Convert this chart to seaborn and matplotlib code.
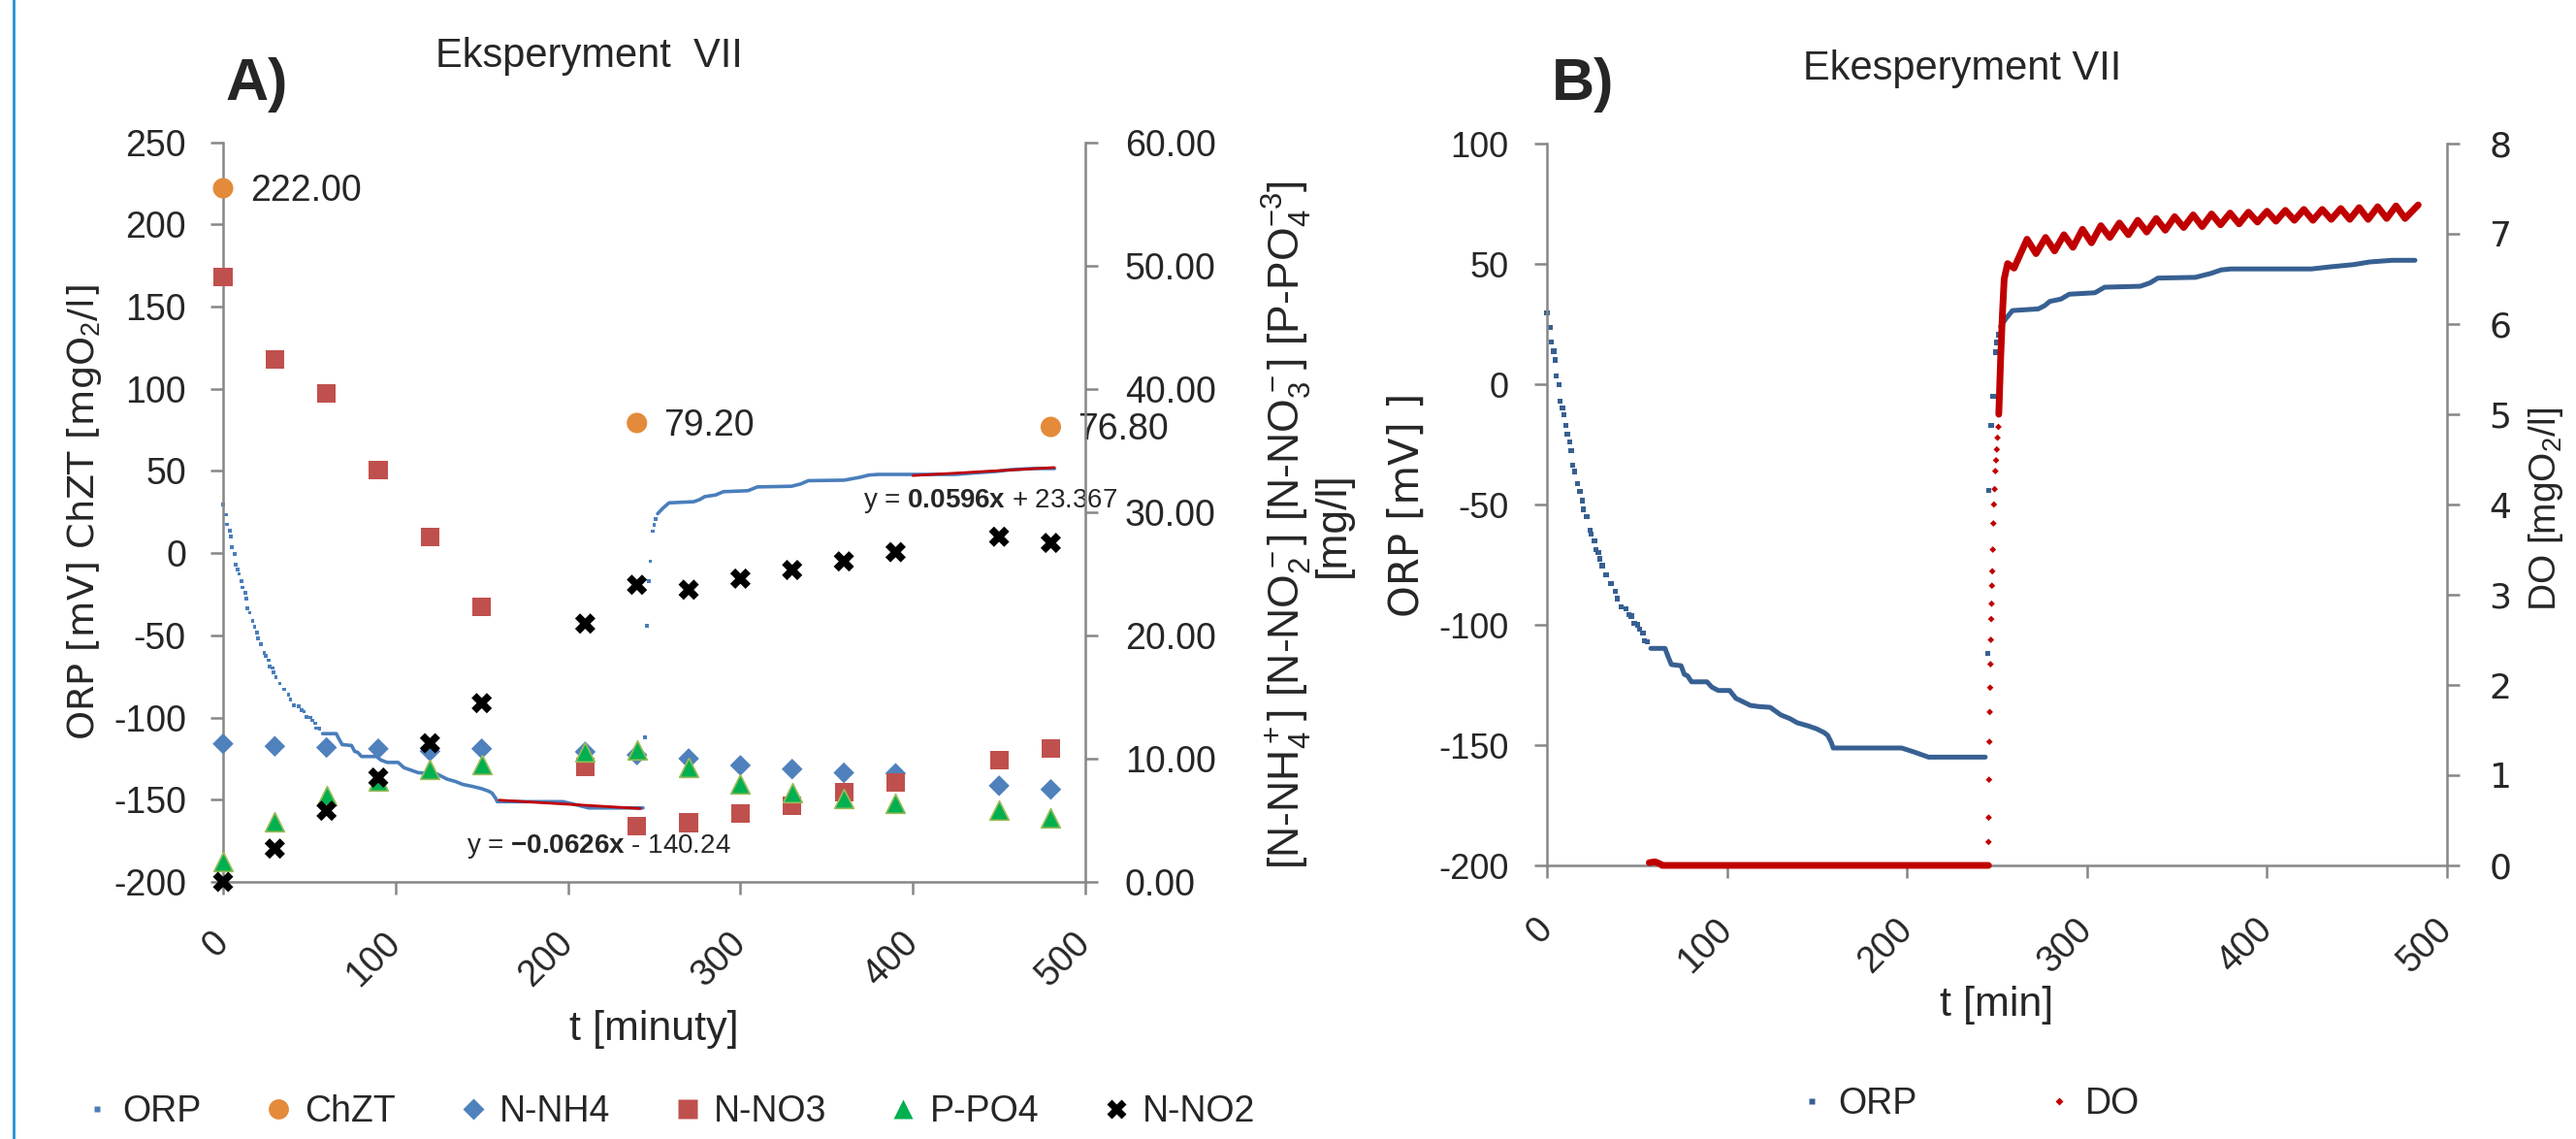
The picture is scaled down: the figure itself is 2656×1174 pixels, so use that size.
import numpy as np
import matplotlib
matplotlib.use("Agg")
import matplotlib.pyplot as plt
import seaborn as sns
from matplotlib.lines import Line2D

sns.set_style("white")
plt.rcParams.update({
    "font.family": ["Liberation Sans", "DejaVu Sans"],
    "mathtext.fontset": "custom",
    "mathtext.rm": "Liberation Sans",
    "mathtext.it": "Liberation Sans:italic",
    "mathtext.bf": "Liberation Sans:bold",
    "axes.edgecolor": "#868686",
    "axes.linewidth": 1.8,
    "axes.unicode_minus": False,
})

W, H = 2656, 1174
def fx(px): return px / W
def fy(py): return 1 - py / H

# ---- data: lab samples (panel A) ----
T_SAMPLE = [0, 30, 60, 90, 120, 150, 210, 240, 270, 300, 330, 360, 390, 450, 480]
N_NH4 = [11.2, 11.0, 10.9, 10.8, 10.6, 10.8, 10.55, 10.3, 10.0, 9.45, 9.15, 8.85, 8.8, 7.8, 7.5]
N_NO3 = [49.1, 42.4, 39.6, 33.4, 28.0, 22.3, 9.3, 4.5, 4.8, 5.55, 6.2, 7.3, 8.1, 9.9, 10.8]
P_PO4 = [1.65, 4.9, 7.0, 8.2, 9.1, 9.5, 10.55, 10.7, 9.3, 7.95, 7.27, 6.8, 6.4, 5.86, 5.17]
N_NO2 = [0.0, 2.7, 5.77, 8.46, 11.25, 14.5, 20.95, 24.1, 23.7, 24.6, 25.3, 26.0, 26.75, 28.0, 27.5]
T_CHZT = [0, 240, 480]
CHZT = [222.00, 79.20, 76.80]

# ---- data: ORP probe [mV] ----
ORP_DROP_T = [0.0, 1.8, 2.3, 3.8, 4.5, 5.2, 6.6, 7.4, 8.6, 9.3, 10.6, 11.3, 12.8, 13.5, 14.2,
              15.5, 17.1, 18.3, 19.6, 20.3, 22.1, 23.9, 24.6, 26.4, 27.1, 28.6, 29.3, 30.7,
              32.9, 35.6, 37.9, 39.0, 41.1, 44.0, 45.4, 46.9, 48.5, 50.5, 51.6, 53.3, 54.0, 55.9]
ORP_DROP_V = [29.7, 23.5, 17.5, 13.7, 10.1, 3.5, -0.3, -7.0, -10.0, -12.6, -17.2, -20.8, -24.1,
              -27.7, -33.7, -36.3, -41.4, -44.6, -48.4, -52.0, -55.2, -60.8, -62.4, -65.2, -68.8,
              -69.9, -72.6, -75.4, -79.3, -82.9, -86.0, -89.1, -92.7, -93.3, -95.7, -96.4, -99.5,
              -100.0, -101.7, -103.5, -106.5, -106.9]
ORP_LOW_T = [57.7, 65.6, 67.3, 69.1, 74.5, 76.3, 78.1, 80.3, 88.9, 91.6, 95.2, 101.5, 105.0,
             106.5, 113.0, 118.0, 124.0, 130.0, 135.0, 139.0, 145.0, 149.7, 154.0, 156.0, 158.0,
             159.0, 197.0, 203.7, 212.0, 243.5]
ORP_LOW_V = [-109.8, -109.8, -113.2, -116.5, -117.0, -120.6, -121.2, -123.7, -123.7, -125.9,
             -127.3, -127.3, -130.6, -131.1, -133.5, -134.0, -134.3, -137.5, -139.0, -140.7,
             -142.0, -143.2, -144.8, -146.0, -149.0, -151.2, -151.2, -152.8, -155.0, -155.0]
ORP_JUMP_T = [244.8, 245.6, 246.8, 247.8, 249.2, 250.0, 250.8]
ORP_JUMP_V = [-112.0, -44.0, -17.0, -5.0, 13.3, 17.3, 20.6]
ORP_HIGH_T = [252.0, 255.0, 258.6, 273.0, 276.6, 279.3, 285.6, 290.1, 304.4, 309.8, 329.6, 335.0,
              339.4, 360.1, 369.1, 374.5, 379.8, 424.7, 435.5, 448.0, 457.0, 469.6, 482.2]
ORP_HIGH_V = [24.0, 27.3, 30.6, 31.3, 32.7, 34.4, 35.4, 37.4, 38.0, 40.3, 40.7, 42.1, 44.1, 44.4,
              46.1, 47.5, 47.9, 47.9, 48.8, 49.7, 50.8, 51.5, 51.5]

# ---- data: DO probe [mgO2/l] ----
DO_ZERO_T = [56.8, 60.0, 62.5, 64.0, 245.3]
DO_ZERO_V = [0.03, 0.04, 0.02, 0.0, 0.0]
DO_JUMP_T = [245.3, 245.4, 245.6, 245.8, 246.0, 246.2, 246.4, 246.6, 246.8, 247.0, 247.2,
             247.4, 247.7, 248.0, 248.3, 248.7, 249.1, 249.5, 249.9, 250.3, 250.8]
DO_JUMP_V = [0.26, 0.53, 0.95, 1.37, 1.70, 1.97, 2.23, 2.50, 2.73, 2.90, 3.10, 3.26, 3.50,
             3.79, 4.00, 4.17, 4.37, 4.49, 4.61, 4.74, 4.86]
DO_HIGH_T = [251.0, 252.0, 253.0, 254.0, 255.9, 259.5,
             266.7, 271.7, 277.0, 282.0, 287.2, 292.2, 297.5, 302.5, 307.7, 312.7, 318.0, 323.0,
             328.2, 333.2, 338.5, 343.5, 348.7, 353.7, 359.0, 364.0, 369.2, 374.2, 379.5, 384.5,
             389.7, 394.7, 400.0, 405.0, 410.2, 415.2, 420.5, 425.5, 430.7, 435.7, 441.0, 446.0,
             451.2, 456.2, 461.5, 466.5, 471.7, 476.7, 484.0]
DO_HIGH_V = [5.0, 5.6, 6.1, 6.5, 6.67, 6.62,
             6.94, 6.78, 6.96, 6.81, 6.99, 6.85, 7.05, 6.90, 7.09, 6.96, 7.12, 6.99,
             7.15, 7.02, 7.17, 7.04, 7.19, 7.07, 7.21, 7.08, 7.22, 7.10, 7.23, 7.11,
             7.24, 7.13, 7.25, 7.14, 7.26, 7.15, 7.27, 7.15, 7.27, 7.16, 7.28, 7.16,
             7.29, 7.16, 7.30, 7.17, 7.31, 7.17, 7.32]

# linear trendlines shown in panel A: (slope, intercept, t_start, t_end)
FIT_NEG = (-0.0626, -140.24, 160, 242)
FIT_POS = (0.0596, 23.367, 400, 482)

X_TICKS = [0, 100, 200, 300, 400, 500]

C_ORP_A = "#4A7EBB"
C_ORP_B = "#376092"
C_DO = "#C00000"
C_FIT = "#C00000"
C_CHZT = "#E38B3A"
C_NH4 = "#4F81BD"
C_NO3 = "#C0504D"
C_PO4 = "#00B050"
C_NO2 = "black"
GREY = "#868686"

fig = plt.figure(figsize=(W / 100, H / 100), dpi=100)
fig.add_artist(Line2D([fx(14), fx(14)], [0, 1], color="#1E90D0", lw=2))


def style_axes(ax, ax2, xpad, lpad, rpad, lsize, rfont):
    for s in ["top", "right"]:
        ax.spines[s].set_visible(False)
    for s in ["top", "left", "bottom"]:
        ax2.spines[s].set_visible(False)
    for sp in list(ax.spines.values()) + list(ax2.spines.values()):
        sp.set_color(GREY); sp.set_linewidth(1.8)
    ax.tick_params(axis="x", bottom=True, direction="out", length=9.4, width=1.8,
                   color=GREY, labelsize=27, pad=xpad)
    ax.tick_params(axis="y", left=True, direction="out", length=9.4, width=1.8,
                   color=GREY, labelsize=lsize, pad=lpad)
    ax2.tick_params(axis="y", right=True, left=False, direction="out", length=9.4,
                    width=1.8, color=GREY, labelsize=lsize, pad=rpad)
    ax.set_xlim(0, 500)
    ax.set_xticks(X_TICKS)
    ax.set_xticklabels([str(t) for t in X_TICKS], rotation=45, ha="right", va="center",
                       rotation_mode="anchor")
    for lab in ax2.get_yticklabels():
        lab.set_family(rfont)
    ax.grid(False); ax2.grid(False)


# ================= Panel A =================
axA = fig.add_axes([fx(230), fy(909), (1119 - 230) / W, (909 - 146.6) / H])
axA2 = axA.twinx()
axA.set_ylim(-200, 250)
axA.set_yticks(range(-200, 251, 50))
axA2.set_ylim(0, 60)
axA2.set_yticks(range(0, 61, 10))
axA2.set_yticklabels([f"{v:.2f}" for v in range(0, 61, 10)])

sns.scatterplot(x=ORP_DROP_T, y=ORP_DROP_V, ax=axA, marker="s", s=7, color=C_ORP_A,
                edgecolor="none", legend=False, clip_on=False)
sns.lineplot(x=ORP_LOW_T, y=ORP_LOW_V, ax=axA, color=C_ORP_A, lw=2.6, estimator=None,
             sort=False, legend=False)
sns.scatterplot(x=ORP_JUMP_T, y=ORP_JUMP_V, ax=axA, marker="s", s=7, color=C_ORP_A,
                edgecolor="none", legend=False)
sns.lineplot(x=ORP_HIGH_T, y=ORP_HIGH_V, ax=axA, color=C_ORP_A, lw=2.6, estimator=None,
             sort=False, legend=False)
for m, c, t0, t1 in (FIT_NEG, FIT_POS):
    tt = np.array([t0, t1])
    axA.plot(tt, m * tt + c, color=C_FIT, lw=2.0, zorder=3)

sns.scatterplot(x=T_CHZT, y=CHZT, ax=axA, marker="o", s=230, color=C_CHZT,
                edgecolor="none", legend=False, clip_on=False, zorder=4)
for t, v in zip(T_CHZT, CHZT):
    axA.annotate(f"{v:.2f}", (t, v), xytext=(20, -2), textcoords="offset points",
                 ha="left", va="center", fontsize=27)

sns.scatterplot(x=T_SAMPLE, y=N_NH4, ax=axA2, marker="D", s=120, color=C_NH4,
                edgecolor="none", legend=False, clip_on=False)
sns.scatterplot(x=T_SAMPLE, y=N_NO3, ax=axA2, marker="s", s=190, color=C_NO3,
                edgecolor="none", legend=False, clip_on=False)
sns.scatterplot(x=T_SAMPLE, y=P_PO4, ax=axA2, marker="^", s=200, color=C_PO4,
                edgecolor="#9BBB59", linewidth=1.2, legend=False, clip_on=False)
sns.scatterplot(x=T_SAMPLE, y=N_NO2, ax=axA2, marker="X", s=230, color=C_NO2,
                edgecolor="none", legend=False, clip_on=False)

axA.text(218, -178.7, r"y = $\mathbf{-0.0626x}$ - 140.24", ha="center", va="center",
         fontsize=20)
axA.text(445, 31.8, r"y = $\mathbf{0.0596x}$ + 23.367", ha="center", va="center",
         fontsize=20)

style_axes(axA, axA2, xpad=32, lpad=18, rpad=20, lsize=27, rfont="Liberation Sans")
axA.set_ylabel(r"ORP [mV] ChZT [mgO$_2$/l]", fontsize=27.5, family="DejaVu Sans")
axA.yaxis.set_label_coords(-0.138, 0.5)
axA2.set_ylabel("[N-NH$_4^+$] [N-NO$_2^-$] [N-NO$_3^-$] [P-PO$_4^{-3}$]\n[mg/l]",
                fontsize=32, linespacing=0.95)
axA2.yaxis.set_label_coords(1.2036, 0.483)
axA.set_xlabel("t [minuty]", fontsize=31)
axA.xaxis.set_label_coords(0.5, -0.173)

# ================= Panel B =================
axB = fig.add_axes([fx(1595), fy(892), (2523 - 1595) / W, (892 - 148) / H])
axB2 = axB.twinx()
axB.set_ylim(-200, 100)
axB.set_yticks(range(-200, 101, 50))
axB2.set_ylim(0, 8)
axB2.set_yticks(range(0, 9))

sns.scatterplot(x=ORP_DROP_T, y=ORP_DROP_V, ax=axB, marker="s", s=14, color=C_ORP_B,
                edgecolor="none", legend=False, clip_on=False)
sns.lineplot(x=ORP_LOW_T, y=ORP_LOW_V, ax=axB, color=C_ORP_B, lw=3.6, estimator=None,
             sort=False, legend=False)
sns.scatterplot(x=ORP_JUMP_T, y=ORP_JUMP_V, ax=axB, marker="s", s=14, color=C_ORP_B,
                edgecolor="none", legend=False)
sns.lineplot(x=ORP_HIGH_T, y=ORP_HIGH_V, ax=axB, color=C_ORP_B, lw=3.6, estimator=None,
             sort=False, legend=False)

sns.lineplot(x=DO_ZERO_T, y=DO_ZERO_V, ax=axB2, color=C_DO, lw=5, estimator=None,
             sort=False, legend=False, clip_on=False)
sns.scatterplot(x=DO_JUMP_T, y=DO_JUMP_V, ax=axB2, marker="D", s=12, color=C_DO,
                edgecolor="none", legend=False)
sns.lineplot(x=DO_HIGH_T, y=DO_HIGH_V, ax=axB2, color=C_DO, lw=5, estimator=None,
             sort=False, legend=False)

style_axes(axB, axB2, xpad=34, lpad=19, rpad=22, lsize=26, rfont="DejaVu Sans")
axB.set_ylabel("ORP [mV] ]", fontsize=30, family="DejaVu Sans")
axB.yaxis.set_label_coords(-0.1325, 0.5)
axB2.set_ylabel(r"DO [mgO$_2$/l]", fontsize=28)
axB2.yaxis.set_label_coords(1.088, 0.493)
axB.set_xlabel("t [min]", fontsize=31)
axB.xaxis.set_label_coords(0.5, -0.167)

# ---- titles ----
fig.text(fx(232), fy(103), "A)", fontsize=44, weight="bold", va="baseline", ha="left")
fig.text(fx(607), fy(69), "Eksperyment  VII", fontsize=30, va="baseline", ha="center")
fig.text(fx(1600), fy(103), "B)", fontsize=44, weight="bold", va="baseline", ha="left")
fig.text(fx(2023), fy(82), "Ekesperyment VII", fontsize=30, va="baseline", ha="center")

# ---- legends ----
def mk(marker, color, ms, **kw):
    return Line2D([], [], ls="none", marker=marker, color=color, ms=ms, mec="none", **kw)

handles_a = [mk("s", C_ORP_A, 4), mk("o", C_CHZT, 15), mk("D", C_NH4, 11),
             mk("s", C_NO3, 14), mk("^", C_PO4, 14), mk("X", C_NO2, 15)]
labels_a = ["ORP", "ChZT", "N-NH4", "N-NO3", "P-PO4", "N-NO2"]
fig.legend(handles_a, labels_a, loc="center left", bbox_to_anchor=(fx(84.5), fy(1146)),
           ncol=6, frameon=False, fontsize=27, handlelength=0.8, handletextpad=0.32,
           columnspacing=1.72, borderpad=0, borderaxespad=0)
handles_b = [mk("s", C_ORP_B, 4), mk("D", C_DO, 4)]
fig.legend(handles_b, ["ORP", "DO"], loc="center left", bbox_to_anchor=(fx(1853), fy(1138)),
           ncol=2, frameon=False, fontsize=27, handlelength=0.8, handletextpad=0.32,
           columnspacing=3.5, borderpad=0, borderaxespad=0)

fig.savefig("out.png", dpi=100)
